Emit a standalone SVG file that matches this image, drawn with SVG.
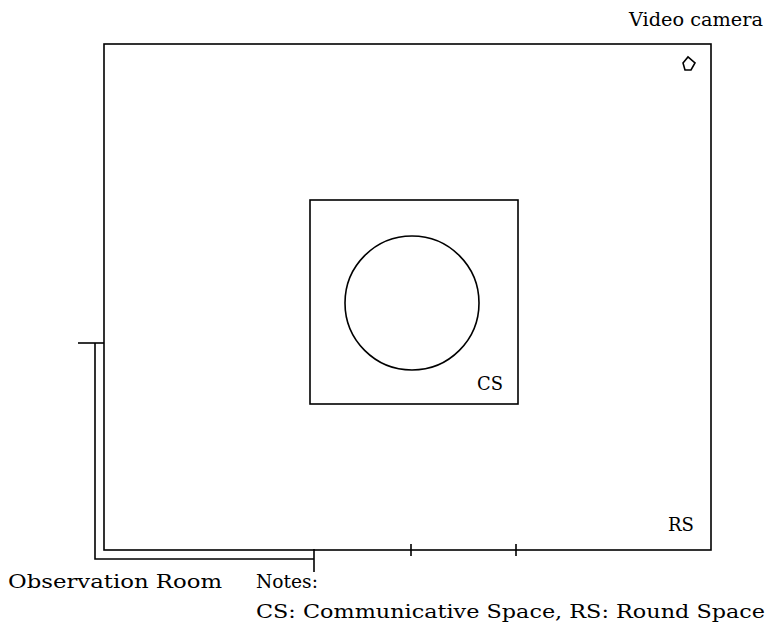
<svg xmlns="http://www.w3.org/2000/svg" width="767" height="626" viewBox="0 0 767 626">
<style>
.ln{fill:none;stroke:#000;stroke-width:1.6}
.t{font-family:'DejaVu Serif',serif;font-size:19px;fill:#000}
</style>
<rect width="767" height="626" fill="#fff"/>
<g id="rs">
<rect class="ln" x="104" y="44" width="607" height="506"/>
<text class="t" x="668" y="531" textLength="26" lengthAdjust="spacingAndGlyphs">RS</text>
</g>
<g id="cs">
<rect class="ln" x="310" y="200" width="208" height="204"/>
<circle class="ln" cx="412" cy="303" r="67"/>
<text class="t" x="477" y="390" textLength="26" lengthAdjust="spacingAndGlyphs">CS</text>
</g>
<g id="camera">
<polygon class="ln" stroke-width="1.2" points="683,63 688,57 695,63 691,70 685,70"/>
<text class="t" x="629" y="26" textLength="134" lengthAdjust="spacingAndGlyphs">Video camera</text>
</g>
<g id="connectors">
<polyline class="ln" points="78,343 104,343"/>
<polyline class="ln" points="95,343 95,559 314,559"/>
<line class="ln" x1="314" y1="549" x2="314" y2="572"/>
<line class="ln" x1="411" y1="544" x2="411" y2="556"/>
<line class="ln" x1="516" y1="544" x2="516" y2="556"/>
</g>
<g id="labels">
<text class="t" x="8" y="588" textLength="214" lengthAdjust="spacingAndGlyphs">Observation Room</text>
<text class="t" x="256" y="588" textLength="62" lengthAdjust="spacingAndGlyphs">Notes:</text>
<text class="t" x="256" y="618" textLength="509" lengthAdjust="spacingAndGlyphs">CS: Communicative Space, RS: Round Space</text>
</g>
</svg>
